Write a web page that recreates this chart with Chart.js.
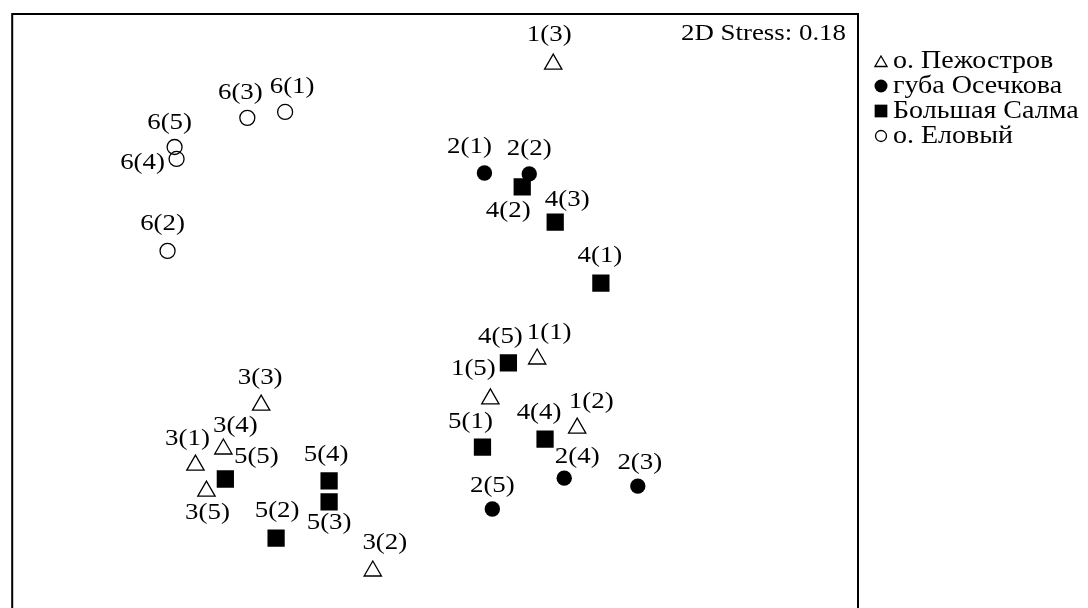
<!DOCTYPE html>
<html>
<head>
<meta charset="utf-8">
<script src="https://cdn.jsdelivr.net/npm/chart.js@4.4.1/dist/chart.umd.min.js"></script>
<style>
  html, body { margin: 0; padding: 0; background: #fff; overflow: hidden; }
  #wrap { position: relative; width: 1088px; height: 630px; }
</style>
</head>
<body>
<div id="wrap"><canvas id="nmds"></canvas></div>
<script>
// NMDS ordination, two axes (arbitrary units)
const seriesNames = ['о. Пежостров', 'губа Осечкова', 'Большая Салма', 'о. Еловый'];

const pezhostrovLabels = ['1(1)', '1(2)', '1(3)', '1(5)', '3(1)', '3(2)', '3(3)', '3(4)', '3(5)'];
const pezhostrovX = [0.362, 0.504, 0.419, 0.196, -0.850, -0.221, -0.617, -0.751, -0.811];
const pezhostrovY = [-0.219, -0.463, 0.823, -0.360, -0.594, -0.968, -0.382, -0.537, -0.686];

const osechkovaLabels = ['2(1)', '2(2)', '2(3)', '2(4)', '2(5)'];
const osechkovaX = [0.175, 0.334, 0.719, 0.458, 0.203];
const osechkovaY = [0.438, 0.435, -0.668, -0.640, -0.749];

const salmaLabels = ['4(1)', '4(2)', '4(3)', '4(4)', '4(5)', '5(1)', '5(2)', '5(3)', '5(4)', '5(5)'];
const salmaX = [0.588, 0.309, 0.426, 0.390, 0.260, 0.168, -0.564, -0.376, -0.376, -0.744];
const salmaY = [0.049, 0.389, 0.265, -0.502, -0.233, -0.530, -0.852, -0.724, -0.650, -0.643];

const elovyLabels = ['6(1)', '6(2)', '6(3)', '6(4)', '6(5)'];
const elovyX = [-0.532, -0.949, -0.666, -0.917, -0.924];
const elovyY = [0.654, 0.163, 0.633, 0.488, 0.530];

const stressText = '2D Stress: 0.18';

// label placement next to each marker, in screen pixels [dx, dy]
const pezhostrovLabelPos = [[12, -26], [14, -26], [-4, -29], [-17, -30], [-8, -26], [12, -28], [-1, -27], [12, -23], [1, 22]];
const osechkovaLabelPos = [[-15, -26], [0, -25], [2, -23], [13, -21], [0, -23]];
const salmaLabelPos = [[-1, -27], [-14, 24], [12, -22], [-6, -26], [-8, -26], [-12, -25], [1, -27], [0, 21], [-3, -26], [31, -22]];
const elovyLabelPos = [[7, -25], [-5, -27], [-7, -25], [-34, 4], [-5, -24]];

const toPoints = (xs, ys) => xs.map((x, i) => ({ x: x, y: ys[i] }));

const LABEL_FONT = '24px "Liberation Serif", "Times New Roman", serif';
const KEY_FONT = '25px "Liberation Serif", "Times New Roman", serif';
const LABEL_STRETCH = 1.12;
const KEY_STRETCH = 1.12;

const datasets = [
  {
    label: seriesNames[0],
    data: toPoints(pezhostrovX, pezhostrovY),
    pointLabels: pezhostrovLabels, labelPos: pezhostrovLabelPos,
    pointStyle: 'triangle', radius: 10, hoverRadius: 10,
    backgroundColor: 'rgba(255,255,255,0)', borderColor: '#000', borderWidth: 1.3,
    legendRadius: 7
  },
  {
    label: seriesNames[1],
    data: toPoints(osechkovaX, osechkovaY),
    pointLabels: osechkovaLabels, labelPos: osechkovaLabelPos,
    pointStyle: 'circle', radius: 7.7, hoverRadius: 7.7,
    backgroundColor: '#000', borderColor: '#000', borderWidth: 0,
    legendRadius: 6.5
  },
  {
    label: seriesNames[2],
    data: toPoints(salmaX, salmaY),
    pointLabels: salmaLabels, labelPos: salmaLabelPos,
    pointStyle: 'rect', radius: 12.2, hoverRadius: 12.2,
    backgroundColor: '#000', borderColor: '#000', borderWidth: 0,
    legendRadius: 9
  },
  {
    label: seriesNames[3],
    data: toPoints(elovyX, elovyY),
    pointLabels: elovyLabels, labelPos: elovyLabelPos,
    pointStyle: 'circle', radius: 7.5, hoverRadius: 7.5,
    backgroundColor: 'rgba(255,255,255,0)', borderColor: '#000', borderWidth: 1.3,
    legendRadius: 5.5
  }
];

function stretchedText(ctx, text, x, y, sx) {
  ctx.save();
  ctx.translate(x, y);
  ctx.scale(sx, 1);
  ctx.fillText(text, 0, 0);
  ctx.restore();
}

// frame, point labels, stress value and the key on the right
const annotate = {
  id: 'annotate',
  afterDatasetsDraw(chart) {
    const ctx = chart.ctx;
    const area = chart.chartArea;
    ctx.save();

    ctx.strokeStyle = '#000';
    ctx.lineWidth = 2;
    ctx.strokeRect(area.left, area.top, area.right - area.left, area.bottom - area.top);

    ctx.fillStyle = '#000';
    ctx.font = LABEL_FONT;
    ctx.textAlign = 'center';
    ctx.textBaseline = 'middle';
    chart.data.datasets.forEach((ds, i) => {
      const meta = chart.getDatasetMeta(i);
      meta.data.forEach((el, j) => {
        const off = ds.labelPos[j];
        stretchedText(ctx, ds.pointLabels[j], el.x + off[0], el.y + off[1], LABEL_STRETCH);
      });
    });

    ctx.textAlign = 'right';
    stretchedText(ctx, stressText, area.right - 12, area.top + 20, LABEL_STRETCH);

    // key
    const keyX = area.right + 23;
    const textX = area.right + 35;
    const rowY = [61, 86, 111, 136];
    ctx.font = KEY_FONT;
    ctx.textAlign = 'left';
    chart.data.datasets.forEach((ds, i) => {
      const y = rowY[i];
      ctx.lineWidth = ds.borderWidth || 1;
      ctx.strokeStyle = ds.borderColor;
      ctx.fillStyle = ds.backgroundColor;
      Chart.helpers.drawPoint(ctx, {
        pointStyle: ds.pointStyle,
        radius: ds.legendRadius,
        borderWidth: ds.borderWidth,
        rotation: 0
      }, keyX, y + (ds.pointStyle === 'triangle' ? 2 : 0));
      ctx.fillStyle = '#000';
      stretchedText(ctx, ds.label, textX, y, KEY_STRETCH);
    });

    ctx.restore();
  }
};

new Chart(document.getElementById('nmds'), {
  type: 'scatter',
  data: { datasets: datasets },
  options: {
    responsive: true,
    maintainAspectRatio: false,
    animation: false,
    events: [],
    layout: { padding: { left: 9, top: 14, right: 230, bottom: 16 } },
    plugins: { legend: { display: false }, tooltip: { enabled: false } },
    scales: {
      x: { type: 'linear', min: -1.5, max: 1.5, display: false },
      y: { type: 'linear', min: -1.12, max: 1.0, display: false }
    }
  },
  plugins: [annotate]
});
</script>
</body>
</html>
